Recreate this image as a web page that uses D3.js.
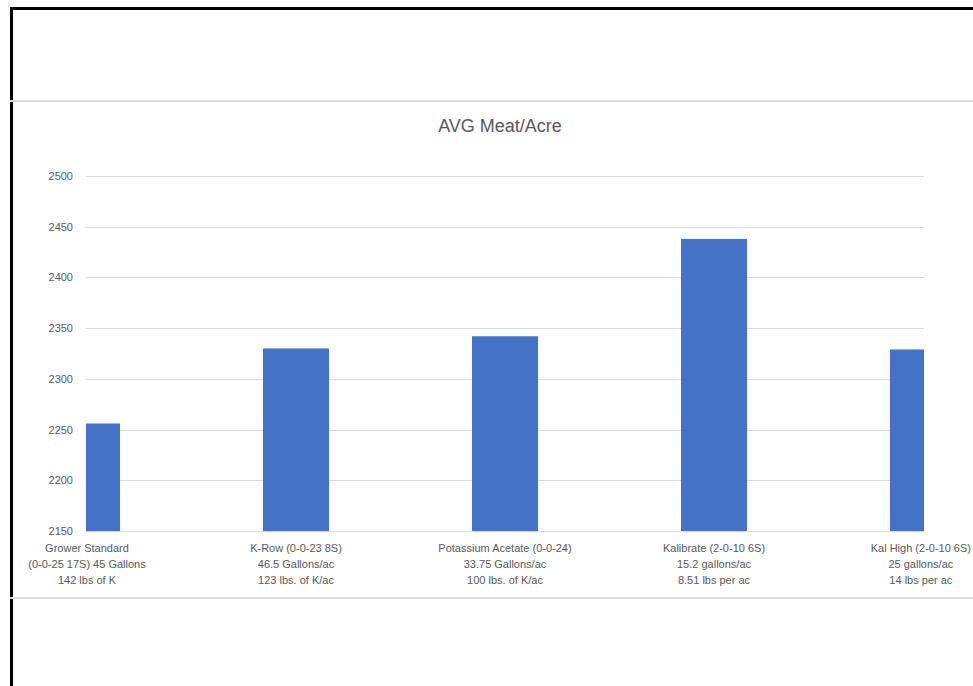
<!DOCTYPE html>
<html>
<head>
<meta charset="utf-8">
<script src="https://cdn.jsdelivr.net/npm/d3@7"></script>
<style>
  html, body { margin: 0; padding: 0; background: #fff; }
  svg { display: block; font-family: "Liberation Sans", Arial, sans-serif; }
</style>
</head>
<body>
<svg id="chart"></svg>
<script>
// ── Data ──
const categories = [
  ['Grower Standard', '(0-0-25 17S) 45 Gallons', '142 lbs of K'],
  ['K-Row (0-0-23 8S)', '46.5 Gallons/ac', '123 lbs. of K/ac'],
  ['Potassium Acetate (0-0-24)', '33.75 Gallons/ac', '100 lbs. of K/ac'],
  ['Kalibrate (2-0-10 6S)', '15.2 gallons/ac', '8.51 lbs per ac'],
  ['Kal High (2-0-10 6S)', '25 gallons/ac', '14 lbs per ac']
];
const values = [2256, 2330, 2342, 2438, 2329];
const yTicks = [2150, 2200, 2250, 2300, 2350, 2400, 2450, 2500];
const title = 'AVG Meat/Acre';

// ── Setup ──
const W = 973, H = 686;
const svg = d3.select('#chart').attr('width', W).attr('height', H);
svg.append('rect').attr('width', W).attr('height', H).attr('fill', '#fff');

const plot = { left: 86, right: 924, top: 176, bottom: 531 };
const names = categories.map(c => c[0]);

const x = d3.scalePoint().domain(names).range([87, 923]);
const y = d3.scaleLinear().domain([2150, 2500]).range([plot.bottom, plot.top]);
const barW = 66;

// ── Frame (screenshot borders) ──
svg.append('rect').attr('x', 10).attr('y', 7).attr('width', W - 10).attr('height', 3).attr('fill', '#000');
svg.append('rect').attr('x', 10).attr('y', 7).attr('width', 3).attr('height', H - 7).attr('fill', '#000');
svg.append('rect').attr('x', 10).attr('y', 100).attr('width', W - 10).attr('height', 2).attr('fill', '#d9d9d9');
svg.append('rect').attr('x', 10).attr('y', 597).attr('width', W - 10).attr('height', 2).attr('fill', '#d9d9d9');

// ── Title ──
svg.append('text').text(title)
  .attr('x', 500).attr('y', 132)
  .attr('text-anchor', 'middle')
  .attr('font-size', '18px').attr('fill', '#595959');

// ── Gridlines ──
svg.append('g').selectAll('line').data(yTicks).enter().append('line')
  .attr('x1', plot.left).attr('x2', plot.right)
  .attr('y1', d => Math.round(y(d)) + 0.5).attr('y2', d => Math.round(y(d)) + 0.5)
  .attr('stroke', '#d9d9d9').attr('stroke-width', 1);

// ── Y axis labels ──
const yAxis = svg.append('g').attr('transform', `translate(${plot.left},0)`)
  .call(d3.axisLeft(y).tickValues(yTicks).tickFormat(d3.format('d')).tickSize(0).tickPadding(13));
yAxis.select('.domain').remove();
yAxis.attr('font-family', null).attr('font-size', null);
yAxis.selectAll('text').attr('font-size', '11px').attr('fill', '#595959');

// ── Bars (clipped to plot area) ──
svg.append('defs').append('clipPath').attr('id', 'plotClip')
  .append('rect').attr('x', plot.left).attr('y', 0)
  .attr('width', plot.right - plot.left).attr('height', H);

svg.append('g').attr('clip-path', 'url(#plotClip)')
  .selectAll('rect').data(values).enter().append('rect')
  .attr('x', (d, i) => x(names[i]) - barW / 2)
  .attr('y', d => y(d))
  .attr('width', barW)
  .attr('height', d => plot.bottom - y(d))
  .attr('fill', '#4472c4');

// ── X axis labels (3 lines each) ──
const xLab = svg.append('g').selectAll('text').data(categories).enter().append('text')
  .attr('text-anchor', 'middle')
  .attr('font-size', '11px').attr('fill', '#595959');
xLab.selectAll('tspan').data(d => d.map(line => ({ line, key: d[0] }))).enter().append('tspan')
  .attr('x', d => x(d.key))
  .attr('y', (d, i) => 552 + i * 16)
  .text(d => d.line);

// keep labels inside the window
xLab.each(function () {
  const bb = this.getBBox();
  let dx = 0;
  if (bb.x + bb.width > W - 2) dx = (W - 2) - (bb.x + bb.width);
  if (bb.x < 14) dx = 14 - bb.x;
  if (dx) d3.select(this).attr('transform', `translate(${dx},0)`);
});
</script>
</body>
</html>
